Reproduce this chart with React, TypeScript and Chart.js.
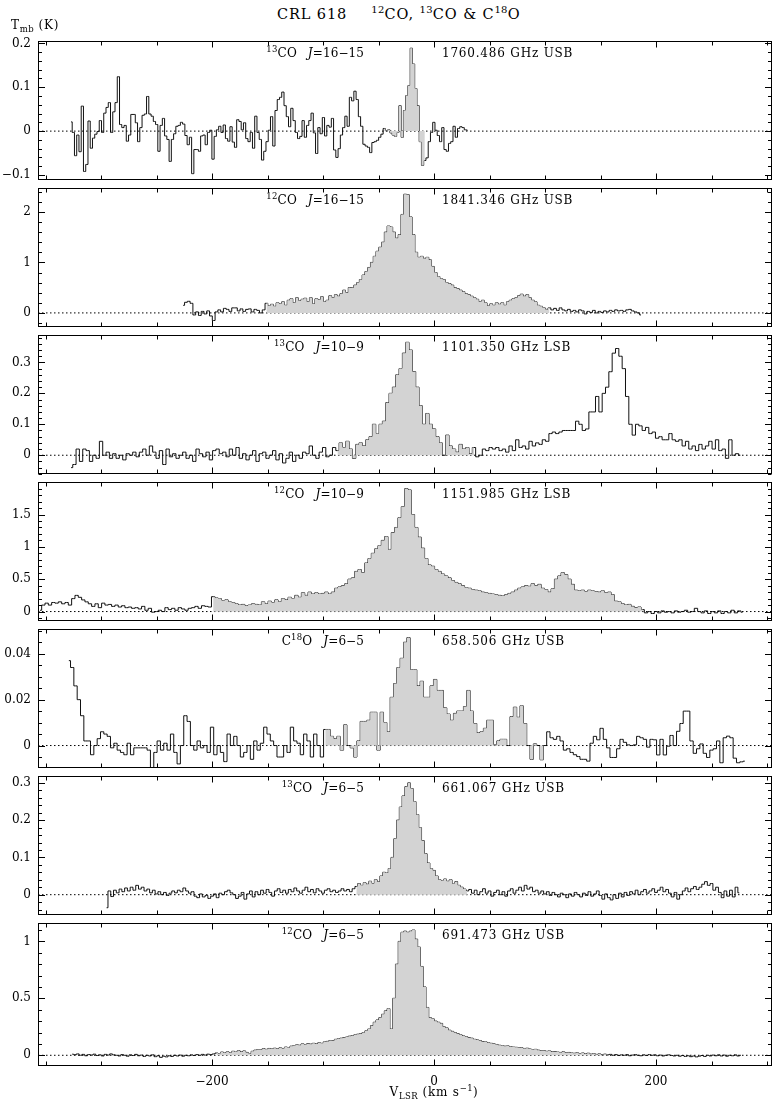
import React, { useEffect, useRef } from "react";
import { Chart, registerables } from "chart.js";

Chart.register(...registerables);

const FONT = "'DejaVu Serif', 'Liberation Serif', serif";

// ---------- shared velocity axis (km/s) ----------
const xMin = -356.8;
const xMax = 304.5;
const xMajorTicks = [-200, 0, 200];
const xMinorStep = 50;

// ---------- panel 1: 13CO J=16-15 ----------
const co13J16Start = -327;
const co13J16Step = 2.03;
const co13J16Values = [
  0.021,-0.003,-0.056,-0.009,-0.047,0.057,-0.092,-0.076,0.023,-0.039,
  -0.016,-0.007,-0.001,0.024,-0.003,0.041,0.054,0.065,-0.003,0.044,
  0.065,0.124,0.015,0.008,0.013,-0.023,-0.009,0.038,0.038,0.019,
  -0.024,0.008,0.036,0.039,0.079,0.039,0.034,0.022,0.015,-0.046,
  0.013,0.029,-0.011,-0.019,-0.069,-0.019,-0.006,0.011,0.013,0.02,
  0.016,-0.01,-0.031,-0.014,-0.097,-0.042,-0.042,-0.046,-0.011,-0.009,
  -0.031,-0.003,0.002,-0.064,-0.012,0.003,0.011,-0.003,0.014,-0.017,
  -0.023,0.01,-0.025,-0.037,0.026,0.022,0.003,0.019,-0.017,-0.024,
  -0.003,-0.039,0.034,-0.003,-0.019,-0.066,-0.046,-0.024,0.002,0.033,
  -0.034,0.047,0.072,0.077,0.089,0.058,0.033,0.01,0.052,0.024,
  -0.003,-0.017,-0.012,0.024,-0.014,0.013,0.024,0.041,-0.004,-0.051,
  0.008,-0.006,0.031,-0.011,0.013,0.009,0.029,-0.043,-0.06,-0.04,
  -0.009,0.008,0.034,0.011,0.077,0.069,0.091,0.072,0.033,0.011,
  -0.03,-0.034,-0.037,-0.049,-0.026,-0.024,-0.021,-0.014,-0.007,0.006,
  0.001,0.003,-0.004,-0.009,-0.012,-0.003,0.058,-0.014,0.047,0.081,
  0.104,0.189,0.153,0.097,0.058,-0.024,-0.078,-0.067,-0.061,-0.024,
  -0.003,0.02,0.002,-0.01,-0.024,0.008,-0.042,-0.046,-0.028,-0.024,
  0.011,-0.014,0.006,0.01,0.008,0.003,0.002,
];
const co13J16Fill = [-45, -8];
const co13J16YRange = [-0.111, 0.205];
const co13J16YTicks = [-0.1, 0, 0.1, 0.2];
const co13J16YMinor = 0.02;

// ---------- panel 2: 12CO J=16-15 ----------
const co12J16Start = -226;
const co12J16Step = 2.5;
const co12J16Values = [
  0.15,0.21,0.23,0.19,-0.04,0.02,-0.05,0.03,-0.02,0.04,
  -0.06,-0.15,0.02,0.06,0.02,0.09,0.07,0.03,0.1,0.1,
  0.04,0.08,0.03,0.07,0.08,0.02,0.07,0.05,0.0,0.06,
  0.19,0.14,0.17,0.13,0.2,0.18,0.22,0.15,0.25,0.28,
  0.2,0.3,0.24,0.27,0.29,0.22,0.3,0.18,0.28,0.26,
  0.32,0.22,0.25,0.34,0.3,0.36,0.33,0.38,0.45,0.4,
  0.5,0.5,0.55,0.6,0.66,0.75,0.82,0.9,1.0,1.12,
  1.22,1.3,1.4,1.6,1.72,1.7,1.6,1.48,1.55,1.95,
  2.35,2.34,1.9,1.55,1.2,1.1,1.12,1.08,1.1,1.05,
  0.92,0.8,0.72,0.68,0.66,0.6,0.58,0.55,0.5,0.48,
  0.45,0.42,0.38,0.36,0.33,0.3,0.27,0.22,0.25,0.2,
  0.14,0.18,0.15,0.2,0.17,0.2,0.15,0.22,0.25,0.28,
  0.3,0.34,0.37,0.33,0.36,0.3,0.25,0.22,0.15,0.13,
  0.1,0.07,0.1,0.06,0.09,0.05,0.1,0.06,0.04,0.07,
  0.03,0.05,0.02,0.06,0.04,-0.02,0.03,0.01,0.05,0.0,
  0.03,0.01,0.04,0.02,0.05,0.03,0.06,0.04,0.05,0.03,
  0.06,0.07,0.04,0.02,0.0,-0.04,
];
const co12J16Fill = [-151, 104];
const co12J16YRange = [-0.275, 2.47];
const co12J16YTicks = [0, 1, 2];
const co12J16YMinor = 0.2;

// ---------- panel 3: 13CO J=10-9 ----------
const co13J10Start = -327;
const co13J10Step = 3;
const co13J10Values = [
  -0.04,-0.03,0.02,-0.02,0.02,0.015,-0.02,0.0,-0.01,0.045,
  0.0,0.01,-0.01,0.005,-0.01,0.0,-0.015,0.005,0.0,0.01,
  -0.005,0.01,0.02,0.0,0.03,0.01,-0.01,0.015,-0.03,0.02,
  -0.005,0.005,-0.01,0.0,0.01,-0.01,0.0,-0.02,0.02,0.005,
  -0.005,0.01,-0.015,0.015,0.02,0.005,0.01,-0.005,0.02,0.0,
  0.025,-0.01,0.005,-0.015,0.0,0.015,-0.02,0.005,0.01,-0.01,
  0.0,0.015,-0.015,0.005,-0.025,-0.01,0.01,-0.02,0.0,-0.01,
  0.01,0.005,0.03,0.0,-0.01,0.01,0.025,-0.005,0.0,0.025,
  0.015,0.04,0.025,0.045,0.02,-0.01,0.035,0.04,0.03,0.05,
  0.06,0.1,0.07,0.1,0.11,0.17,0.2,0.22,0.26,0.28,
  0.33,0.365,0.34,0.27,0.22,0.16,0.1,0.135,0.1,0.085,
  0.06,0.04,0.0,0.065,0.03,0.02,0.01,0.035,0.02,0.025,
  0.005,0.025,-0.005,0.0,0.02,0.015,0.025,0.02,0.025,0.015,
  0.02,0.01,0.03,0.015,0.05,0.025,0.03,0.02,0.045,0.03,
  0.04,0.035,0.05,0.045,0.07,0.075,0.07,0.075,0.08,0.08,
  0.08,0.08,0.11,0.1,0.08,0.085,0.14,0.14,0.19,0.14,
  0.2,0.22,0.27,0.33,0.345,0.32,0.28,0.19,0.1,0.065,
  0.1,0.095,0.08,0.09,0.07,0.075,0.055,0.06,0.05,0.05,
  0.07,0.05,0.045,0.05,0.03,0.045,0.02,0.03,0.015,0.035,
  0.02,0.03,0.045,0.02,0.05,0.015,0.02,-0.01,0.05,0.0,
  0.005,0.0,
];
const co13J10Fill = [-88, 37];
const co13J10YRange = [-0.06, 0.388];
const co13J10YTicks = [0, 0.1, 0.2, 0.3];
const co13J10YMinor = 0.02;

// ---------- panel 4: 12CO J=10-9 ----------
const co12J10Start = -355;
const co12J10Step = 3;
const co12J10Values = [
  0.02,0.1,0.13,0.1,0.14,0.13,0.15,0.12,0.14,0.1,
  0.2,0.25,0.22,0.18,0.15,0.12,0.08,0.12,0.06,0.13,
  0.1,0.11,0.08,0.1,0.07,0.09,0.06,0.07,0.05,0.06,
  0.04,0.08,0.02,0.05,-0.01,0.0,0.02,0.0,0.06,0.03,
  0.05,0.02,0.06,0.04,0.02,0.05,0.06,0.08,0.05,0.09,
  0.08,0.07,0.23,0.21,0.2,0.17,0.18,0.15,0.14,0.12,
  0.1,0.11,0.09,0.1,0.12,0.11,0.1,0.15,0.12,0.16,
  0.14,0.18,0.15,0.2,0.18,0.22,0.2,0.25,0.22,0.29,
  0.25,0.3,0.27,0.29,0.27,0.28,0.3,0.27,0.3,0.36,
  0.38,0.4,0.43,0.5,0.52,0.62,0.65,0.6,0.75,0.82,
  0.9,0.97,1.02,1.1,1.16,0.96,1.22,1.3,1.45,1.62,
  1.9,1.88,1.5,1.3,1.15,0.98,0.82,0.72,0.7,0.65,
  0.62,0.58,0.55,0.52,0.48,0.45,0.43,0.4,0.37,0.36,
  0.34,0.33,0.32,0.3,0.29,0.28,0.27,0.26,0.25,0.24,
  0.26,0.28,0.3,0.33,0.36,0.38,0.4,0.39,0.43,0.4,
  0.42,0.36,0.34,0.3,0.35,0.5,0.55,0.6,0.57,0.5,
  0.42,0.33,0.32,0.33,0.31,0.33,0.32,0.31,0.3,0.32,
  0.29,0.3,0.26,0.16,0.15,0.12,0.1,0.11,0.08,0.06,
  0.07,0.03,-0.02,0.0,-0.03,0.0,-0.02,0.01,-0.01,0.0,
  -0.02,0.01,-0.01,0.0,0.02,-0.01,0.0,0.05,0.0,-0.02,
  0.01,-0.03,0.0,-0.02,0.01,-0.03,0.0,-0.02,0.02,-0.02,
  0.01,-0.01,
];
const co12J10Fill = [-199, 188];
const co12J10YRange = [-0.143, 2.0];
const co12J10YTicks = [0, 0.5, 1, 1.5];
const co12J10YMinor = 0.1;

// ---------- panel 5: C18O J=6-5 ----------
const c18oJ6Start = -329;
const c18oJ6Step = 3;
const c18oJ6Values = [
  0.037,0.034,0.026,0.02,0.013,0.002,0.002,-0.004,0.0,0.003,
  0.006,0.005,0.004,-0.001,0.001,-0.002,-0.003,-0.004,0.001,-0.004,
  -0.001,-0.001,-0.001,-0.001,-0.002,-0.01,-0.003,0.002,-0.002,0.001,
  -0.002,0.005,-0.003,-0.008,0.0,0.013,0.0105,0.0,-0.002,0.002,
  -0.001,0.0,-0.003,0.008,-0.004,0.0,-0.003,-0.007,0.005,0.0,
  0.004,0.0,-0.005,-0.003,0.0,-0.006,0.002,-0.002,0.001,0.008,
  0.005,0.002,0.0,-0.005,-0.005,0.0,-0.003,0.008,0.002,0.001,
  -0.004,0.005,0.002,-0.005,0.005,0.0,-0.005,0.007,0.007,0.004,
  0.003,0.004,-0.002,0.009,0.0,-0.001,-0.005,0.002,0.0105,0.0105,
  0.011,0.0145,0.0145,-0.002,0.0145,0.01,0.006,0.021,0.027,0.034,
  0.038,0.045,0.047,0.033,0.033,0.026,0.028,0.021,0.021,0.026,
  0.0288,0.024,0.024,0.0164,0.0137,0.011,0.014,0.015,0.015,0.017,
  0.024,0.015,0.0096,0.0055,0.006,0.0075,0.011,0.011,0.0003,0.002,
  0.0027,0.0027,0.0,0.0126,0.0167,0.0123,0.0173,0.0096,0.0,-0.006,
  0.0007,0.0,-0.0062,0.0,0.006,0.0034,0.0027,0.004,0.002,-0.002,
  -0.0014,-0.003,-0.004,-0.0048,-0.006,-0.006,-0.0068,0.001,0.004,0.0025,
  0.0075,0.0027,-0.001,-0.0052,-0.0052,-0.0014,0.0027,0.0014,0.0003,0.0,
  0.0003,0.004,0.0034,0.0027,-0.0007,0.0027,0.0025,-0.0041,0.0027,-0.0041,
  -0.0003,0.0044,0.0,0.0062,0.0096,0.015,0.015,0.002,-0.0034,-0.0014,
  0.0007,-0.0034,-0.0052,-0.002,-0.0014,0.002,-0.0075,0.0034,0.0041,0.0034,
  -0.0055,-0.0075,-0.0071,-0.0068,
];
const c18oJ6Fill = [-100, 100];
const c18oJ6YRange = [-0.0097, 0.0507];
const c18oJ6YTicks = [0, 0.02, 0.04];
const c18oJ6YMinor = 0.005;

// ---------- panel 6: 13CO J=6-5 ----------
const co13J6Start = -295;
const co13J6Step = 2.5;
const co13J6Values = [
  -0.035,0.01,-0.005,0.012,0.005,0.015,0.008,0.018,0.01,0.02,
  0.012,0.025,0.015,0.02,0.01,0.015,0.005,0.012,0.002,0.008,
  0.0,0.006,-0.002,0.004,0.01,0.005,0.012,0.008,0.018,0.01,
  0.004,0.008,-0.004,-0.008,0.002,-0.006,-0.002,-0.01,-0.004,0.002,
  -0.008,0.004,0.0,0.008,0.012,0.005,0.0,-0.01,-0.004,0.006,
  -0.012,0.002,0.01,-0.006,0.008,0.0,0.012,0.004,0.014,0.006,
  -0.004,0.01,0.016,0.006,0.012,0.004,0.014,0.008,0.018,0.01,
  0.004,0.012,0.02,0.008,0.014,0.005,0.016,0.01,0.004,0.012,
  0.016,0.008,0.012,0.006,0.01,0.016,0.01,0.014,0.008,0.016,
  0.022,0.03,0.025,0.032,0.028,0.036,0.03,0.04,0.035,0.05,
  0.06,0.058,0.07,0.1,0.15,0.2,0.235,0.265,0.29,0.3,
  0.285,0.25,0.215,0.18,0.145,0.11,0.085,0.07,0.065,0.05,
  0.04,0.038,0.042,0.036,0.04,0.03,0.035,0.025,0.02,0.015,
  0.01,0.014,0.004,0.012,0.0,0.008,0.016,0.004,0.01,-0.004,
  0.006,0.012,0.0,0.008,-0.004,0.01,0.016,0.004,0.012,0.02,
  0.01,0.025,0.015,0.02,0.008,0.012,0.004,0.01,0.002,0.008,
  -0.002,0.006,0.0,-0.006,0.004,0.0,-0.008,0.002,-0.004,0.006,
  0.0,-0.006,0.004,-0.002,0.008,-0.004,0.002,0.01,-0.002,-0.012,
  0.002,-0.008,-0.014,0.0,-0.01,0.004,-0.006,0.006,-0.002,0.008,
  0.002,0.012,0.0,0.008,0.014,0.004,0.01,0.016,0.006,0.012,
  0.02,0.008,0.014,0.004,-0.006,0.006,-0.012,0.0,0.01,0.018,
  0.008,0.016,0.022,0.014,0.02,0.028,0.035,0.025,0.03,0.012,
  0.02,0.006,-0.008,0.01,-0.004,0.012,-0.006,0.02,0.005,
];
const co13J6Fill = [-72, 30];
const co13J6YRange = [-0.054, 0.318];
const co13J6YTicks = [0, 0.1, 0.2, 0.3];
const co13J6YMinor = 0.02;

// ---------- panel 7: 12CO J=6-5 ----------
const co12J6Start = -326;
const co12J6Step = 2.5;
const co12J6Values = [
  0.01,0.005,0.012,0.0,0.008,-0.004,0.006,0.002,0.01,-0.002,
  0.004,-0.006,0.008,0.002,0.012,0.004,0.0,-0.006,0.006,0.0,
  -0.008,0.004,-0.002,0.008,-0.004,0.002,-0.01,0.0,-0.006,0.004,
  -0.012,-0.004,-0.018,-0.008,-0.014,-0.004,-0.01,0.0,-0.006,0.002,
  -0.008,0.0,-0.004,0.004,-0.002,0.006,0.0,0.008,0.002,0.01,
  0.006,0.012,0.02,0.015,0.028,0.02,0.03,0.022,0.035,0.028,
  0.04,0.03,0.038,0.025,0.015,0.035,0.045,0.05,0.048,0.058,
  0.052,0.06,0.055,0.062,0.058,0.065,0.06,0.072,0.068,0.08,
  0.085,0.092,0.088,0.1,0.095,0.102,0.098,0.105,0.1,0.11,
  0.105,0.118,0.122,0.13,0.128,0.14,0.145,0.15,0.155,0.16,
  0.168,0.172,0.18,0.185,0.19,0.2,0.215,0.23,0.26,0.29,
  0.31,0.33,0.36,0.39,0.41,0.23,0.5,0.8,1.0,1.08,
  1.09,1.08,1.09,1.1,1.02,0.95,0.78,0.6,0.42,0.33,
  0.32,0.3,0.29,0.28,0.25,0.24,0.22,0.21,0.2,0.19,
  0.18,0.17,0.165,0.155,0.15,0.14,0.135,0.13,0.12,0.118,
  0.11,0.105,0.1,0.095,0.088,0.085,0.08,0.082,0.075,0.072,
  0.07,0.068,0.065,0.06,0.062,0.055,0.05,0.052,0.045,0.04,
  0.042,0.035,0.038,0.03,0.032,0.028,0.025,0.03,0.022,0.025,
  0.02,0.018,0.022,0.015,0.02,0.012,0.018,0.01,0.015,0.008,
  0.012,0.005,0.01,0.004,0.008,0.0,0.006,-0.002,0.004,0.0,
  0.006,-0.004,0.002,0.006,0.0,-0.004,0.004,-0.002,0.006,0.0,
  0.004,-0.004,0.002,-0.006,0.0,0.004,-0.002,-0.006,0.0,-0.008,
  -0.002,-0.01,-0.004,-0.012,-0.006,-0.014,-0.008,-0.002,-0.01,0.0,
  -0.006,0.002,-0.004,0.004,-0.006,0.002,-0.008,0.0,-0.004,0.004,
  -0.006,0.0,
];
const co12J6Fill = [-196, 158];
const co12J6YRange = [-0.094, 1.16];
const co12J6YTicks = [0, 0.5, 1];
const co12J6YMinor = 0.1;

// ---------- labels ----------
type Species = { pre: string; sup: string; post: string; trans: string; freq: string };
const speciesLabels: Species[] = [
  { pre: "", sup: "13", post: "CO", trans: "16−15", freq: "1760.486 GHz USB" },
  { pre: "", sup: "12", post: "CO", trans: "16−15", freq: "1841.346 GHz USB" },
  { pre: "", sup: "13", post: "CO", trans: "10−9", freq: "1101.350 GHz LSB" },
  { pre: "", sup: "12", post: "CO", trans: "10−9", freq: "1151.985 GHz LSB" },
  { pre: "C", sup: "18", post: "O", trans: "6−5", freq: "658.506 GHz USB" },
  { pre: "", sup: "13", post: "CO", trans: "6−5", freq: "661.067 GHz USB" },
  { pre: "", sup: "12", post: "CO", trans: "6−5", freq: "691.473 GHz USB" },
];

type PanelSpec = {
  start: number; step: number; values: number[]; fill: number[];
  yRange: number[]; yTicks: number[]; yMinor: number;
};

const PANELS: PanelSpec[] = [
  { start: co13J16Start, step: co13J16Step, values: co13J16Values, fill: co13J16Fill, yRange: co13J16YRange, yTicks: co13J16YTicks, yMinor: co13J16YMinor },
  { start: co12J16Start, step: co12J16Step, values: co12J16Values, fill: co12J16Fill, yRange: co12J16YRange, yTicks: co12J16YTicks, yMinor: co12J16YMinor },
  { start: co13J10Start, step: co13J10Step, values: co13J10Values, fill: co13J10Fill, yRange: co13J10YRange, yTicks: co13J10YTicks, yMinor: co13J10YMinor },
  { start: co12J10Start, step: co12J10Step, values: co12J10Values, fill: co12J10Fill, yRange: co12J10YRange, yTicks: co12J10YTicks, yMinor: co12J10YMinor },
  { start: c18oJ6Start, step: c18oJ6Step, values: c18oJ6Values, fill: c18oJ6Fill, yRange: c18oJ6YRange, yTicks: c18oJ6YTicks, yMinor: c18oJ6YMinor },
  { start: co13J6Start, step: co13J6Step, values: co13J6Values, fill: co13J6Fill, yRange: co13J6YRange, yTicks: co13J6YTicks, yMinor: co13J6YMinor },
  { start: co12J6Start, step: co12J6Step, values: co12J6Values, fill: co12J6Fill, yRange: co12J6YRange, yTicks: co12J6YTicks, yMinor: co12J6YMinor },
];

// ---------- layout ----------
const PANEL_TOPS = [37, 184, 331, 478, 625, 772, 919];
const PANEL_H = 147;
const PAD = 10;
const X_AXIS_H = 26;
const Y_AXIS_W = 38;
const RIGHT_PAD = 3;

const fmt = (v: number) => (v < 0 ? "−" + String(Math.abs(v)) : String(v));

const textBase: React.CSSProperties = {
  position: "absolute",
  fontFamily: FONT,
  fontSize: "12px",
  letterSpacing: "0.8px",
  lineHeight: "14px",
  whiteSpace: "pre",
  color: "#000",
};

const Sup = ({ children, size = 8.5, lift = 5 }: any) => (
  <span style={{ fontSize: size + "px", position: "relative", top: -lift + "px", letterSpacing: "0.3px" }}>{children}</span>
);
const Sub = ({ children }: any) => (
  <span style={{ fontSize: "8.5px", position: "relative", top: "3px", letterSpacing: "0.3px" }}>{children}</span>
);

function SpectrumPanel({ p, index }: { p: PanelSpec; index: number }) {
  const ref = useRef<HTMLCanvasElement | null>(null);
  const top = PANEL_TOPS[index];
  const isLast = index === PANEL_TOPS.length - 1;
  const canvasTop = top - PAD;
  const canvasH = PANEL_H + PAD + (isLast ? X_AXIS_H : PAD);

  useEffect(() => {
    const canvas = ref.current;
    if (!canvas) return;
    const pts = p.values.map((y, i) => ({ x: p.start + i * p.step, y }));
    const fillPts = pts.filter((pt) => pt.x >= p.fill[0] && pt.x <= p.fill[1]);

    const frame = {
      id: "frame" + index,
      afterDraw(chart: any) {
        const { ctx, chartArea: a } = chart;
        const xs = chart.scales.x;
        const ys = chart.scales.y;
        ctx.save();
        ctx.strokeStyle = "#000";
        ctx.lineWidth = 1;
        const L = Math.round(a.left) + 0.5;
        const R = Math.round(a.right) - 0.5;
        const T = Math.round(a.top) + 0.5;
        const B = Math.round(a.bottom) - 0.5;
        ctx.strokeRect(L, T, R - L, B - T);
        ctx.beginPath();
        for (let k = Math.ceil(xMin / xMinorStep); k * xMinorStep <= xMax; k++) {
          const v = k * xMinorStep;
          const px = Math.round(xs.getPixelForValue(v)) + 0.5;
          const len = xMajorTicks.includes(v) ? 6 : 4;
          ctx.moveTo(px, T);
          ctx.lineTo(px, T + len);
          ctx.moveTo(px, B);
          ctx.lineTo(px, B - len);
        }
        const [ymin, ymax] = p.yRange;
        for (let k = Math.ceil(ymin / p.yMinor - 1e-9); k * p.yMinor <= ymax + 1e-12; k++) {
          const v = k * p.yMinor;
          const py = Math.round(ys.getPixelForValue(v)) + 0.5;
          ctx.moveTo(L, py);
          ctx.lineTo(L + 3.5, py);
          ctx.moveTo(R, py);
          ctx.lineTo(R - 3.5, py);
        }
        for (const v of p.yTicks) {
          const py = Math.round(ys.getPixelForValue(v)) + 0.5;
          ctx.moveTo(L, py);
          ctx.lineTo(L + 6.5, py);
          ctx.moveTo(R, py);
          ctx.lineTo(R - 6.5, py);
        }
        ctx.stroke();
        ctx.restore();
      },
    };

    const tickFont = { family: FONT, size: 12 };

    const chart = new Chart(canvas, {
      type: "line",
      data: {
        datasets: [
          {
            data: fillPts,
            stepped: "middle",
            borderColor: "rgba(0,0,0,0)",
            borderWidth: 0,
            backgroundColor: "#d3d3d3",
            fill: "origin",
            pointRadius: 0,
          },
          {
            data: [{ x: xMin, y: 0 }, { x: xMax, y: 0 }],
            borderColor: "#000",
            borderWidth: 1,
            borderDash: [1.5, 2.5],
            pointRadius: 0,
            fill: false,
          },
          {
            data: pts,
            stepped: "middle",
            borderColor: "#111",
            borderWidth: 1,
            pointRadius: 0,
            fill: false,
          },
        ],
      } as any,
      options: {
        animation: false,
        responsive: false,
        maintainAspectRatio: false,
        devicePixelRatio: 1,
        events: [],
        layout: { padding: { top: PAD, bottom: isLast ? 0 : PAD, left: 0, right: RIGHT_PAD } },
        plugins: { legend: { display: false }, tooltip: { enabled: false }, title: { display: false } },
        scales: {
          x: {
            type: "linear",
            min: xMin,
            max: xMax,
            display: isLast,
            position: "bottom",
            afterBuildTicks: (s: any) => {
              s.ticks = xMajorTicks.map((v) => ({ value: v }));
            },
            afterFit: (s: any) => {
              s.height = isLast ? X_AXIS_H : 0;
            },
            grid: { display: false, drawTicks: false, tickLength: 0 },
            border: { display: false },
            ticks: {
              padding: 9,
              color: "#000",
              font: tickFont,
              maxRotation: 0,
              autoSkip: false,
              callback: (v: any) => fmt(Number(v)),
            },
          },
          y: {
            type: "linear",
            min: p.yRange[0],
            max: p.yRange[1],
            afterBuildTicks: (s: any) => {
              s.ticks = p.yTicks.map((v) => ({ value: v }));
            },
            afterFit: (s: any) => {
              s.width = Y_AXIS_W;
            },
            grid: { display: false, drawTicks: false, tickLength: 0 },
            border: { display: false },
            ticks: {
              padding: 7,
              color: "#000",
              font: tickFont,
              autoSkip: false,
              callback: (v: any) => fmt(Number(v)),
            },
          },
        },
      } as any,
      plugins: [frame],
    });
    return () => chart.destroy();
  }, [p, index]);

  return (
    <canvas
      ref={ref}
      width={775}
      height={canvasH}
      style={{ position: "absolute", left: 0, top: canvasTop, width: 775, height: canvasH }}
    />
  );
}

export default function App() {
  return (
    <div style={{ position: "absolute", left: 0, top: 0, width: 775, height: 1103, overflow: "hidden", background: "#fff" }}>
      {PANELS.map((p, i) => (
        <SpectrumPanel key={i} p={p} index={i} />
      ))}
      {speciesLabels.map((s, i) => (
        <React.Fragment key={"lab" + i}>
          <div style={{ ...textBase, left: 0, width: 364, textAlign: "right", top: PANEL_TOPS[i] + 9, letterSpacing: "0.1px" }}>
            {s.pre}
            <Sup>{s.sup}</Sup>
            {s.post}
            <span style={{ marginLeft: 11 }}>
              <i>J</i>={s.trans}
            </span>
          </div>
          <div style={{ ...textBase, left: 442, top: PANEL_TOPS[i] + 9 }}>{s.freq}</div>
        </React.Fragment>
      ))}
      <div style={{ ...textBase, left: 277, top: 6, fontSize: "14.5px", letterSpacing: "0.9px", lineHeight: "16px" }}>
        CRL 618
        <span style={{ marginLeft: 24 }}>
          <Sup size={10} lift={6}>12</Sup>CO, <Sup size={10} lift={6}>13</Sup>CO &amp; C<Sup size={10} lift={6}>18</Sup>O
        </span>
      </div>
      <div style={{ ...textBase, left: 11, top: 18 }}>
        T<Sub>mb</Sub> (K)
      </div>
      <div style={{ ...textBase, left: 434, top: 1085, transform: "translateX(-50%)" }}>
        V<Sub>LSR</Sub> (km s<Sup>−1</Sup>)
      </div>
    </div>
  );
}
